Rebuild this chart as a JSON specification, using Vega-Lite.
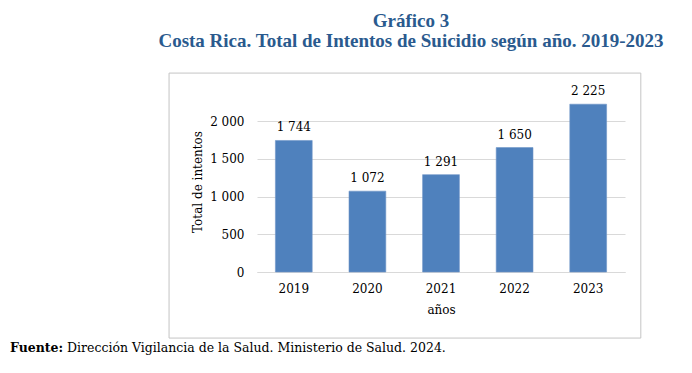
{
  "$schema": "https://vega.github.io/schema/vega-lite/v6.json",
  "width": 368,
  "height": 181,
  "autosize": {"type": "none"},
  "padding": {"left": 257, "top": 91, "right": 67, "bottom": 101},
  "background": "white",
  "config": {
    "locale": {"number": {"decimal": ",", "thousands": " ", "grouping": [3], "currency": ["", ""]}},
    "view": {"stroke": null},
    "font": "DejaVu Serif"
  },
  "title": {
    "text": "Gráfico 3",
    "subtitle": "Costa Rica. Total de Intentos de Suicidio según año. 2019-2023",
    "frame": "group",
    "anchor": "middle",
    "dx": -30,
    "offset": 22,
    "font": "Liberation Serif",
    "fontSize": 19,
    "fontWeight": "bold",
    "color": "#2a5a8e",
    "subtitleFont": "Liberation Serif",
    "subtitleFontSize": 19,
    "subtitleFontWeight": "bold",
    "subtitleColor": "#2a5a8e",
    "subtitlePadding": 1
  },
  "data": {
    "values": [
      {"year": "2019", "total": 1744},
      {"year": "2020", "total": 1072},
      {"year": "2021", "total": 1291},
      {"year": "2022", "total": 1650},
      {"year": "2023", "total": 2225}
    ]
  },
  "layer": [
    {
      "encoding": {
        "x": {
          "field": "year", "type": "nominal",
          "scale": {"paddingInner": 0.5, "paddingOuter": 0.25},
          "axis": {"title": "años", "labelAngle": 0, "ticks": false, "domainColor": "#d9d9d9", "labelPadding": 11, "labelFontSize": 12, "labelColor": "#000000", "titleFontSize": 12, "titleFontWeight": "normal", "titleColor": "#000000", "titlePadding": 10, "labelFont": "DejaVu Serif", "titleFont": "DejaVu Serif"}
        },
        "y": {
          "field": "total", "type": "quantitative",
          "scale": {"domain": [0, 2400], "nice": false},
          "axis": {"title": "Total de intentos", "values": [0, 500, 1000, 1500, 2000], "format": ",d", "ticks": false, "domain": false, "gridColor": "#d9d9d9", "labelPadding": 13, "labelFontSize": 12, "labelColor": "#000000", "titleFontSize": 12, "titleFontWeight": "normal", "titleColor": "#000000", "titlePadding": 5, "labelFont": "DejaVu Serif", "titleFont": "DejaVu Serif"}
        }
      },
      "layer": [
        {"mark": {"type": "bar", "color": "#4f81bd", "stroke": "#6f95c8", "strokeWidth": 0.6}},
        {"mark": {"type": "text", "baseline": "bottom", "dy": -6, "fontSize": 12, "color": "#000000", "font": "DejaVu Serif"},
         "encoding": {"text": {"field": "total", "type": "quantitative", "format": ",d"}}}
      ]
    },
    {
      "data": {"values": [{}]},
      "mark": {"type": "rect", "fill": null, "stroke": "#c4c4c4", "strokeWidth": 1, "clip": false},
      "encoding": {
        "x": {"datum": -0.239, "type": "quantitative", "scale": {"domain": [0, 1], "nice": false, "zero": false}, "axis": null},
        "x2": {"datum": 1.043},
        "y": {"datum": -0.365, "type": "quantitative", "scale": {"domain": [0, 1], "nice": false, "zero": false}, "axis": null},
        "y2": {"datum": 1.099}
      }
    },
    {
      "data": {"values": [{"part": "Fuente:"}]},
      "mark": {"type": "text", "align": "left", "baseline": "middle", "fontSize": 12.5, "fontWeight": "bold", "font": "DejaVu Serif", "color": "#000000", "clip": false},
      "encoding": {
        "text": {"field": "part"},
        "x": {"datum": -0.6712, "type": "quantitative", "scale": {"domain": [0, 1], "nice": false, "zero": false}, "axis": null},
        "y": {"datum": -0.42, "type": "quantitative", "scale": {"domain": [0, 1], "nice": false, "zero": false}, "axis": null}
      }
    },
    {
      "data": {"values": [{"part": "Dirección Vigilancia de la Salud. Ministerio de Salud. 2024."}]},
      "mark": {"type": "text", "align": "left", "baseline": "middle", "fontSize": 12.5, "font": "DejaVu Serif", "color": "#000000", "clip": false},
      "encoding": {
        "text": {"field": "part"},
        "x": {"datum": -0.5163, "type": "quantitative", "scale": {"domain": [0, 1], "nice": false, "zero": false}, "axis": null},
        "y": {"datum": -0.42, "type": "quantitative", "scale": {"domain": [0, 1], "nice": false, "zero": false}, "axis": null}
      }
    }
  ],
  "resolve": {"scale": {"x": "independent", "y": "independent"}}
}
